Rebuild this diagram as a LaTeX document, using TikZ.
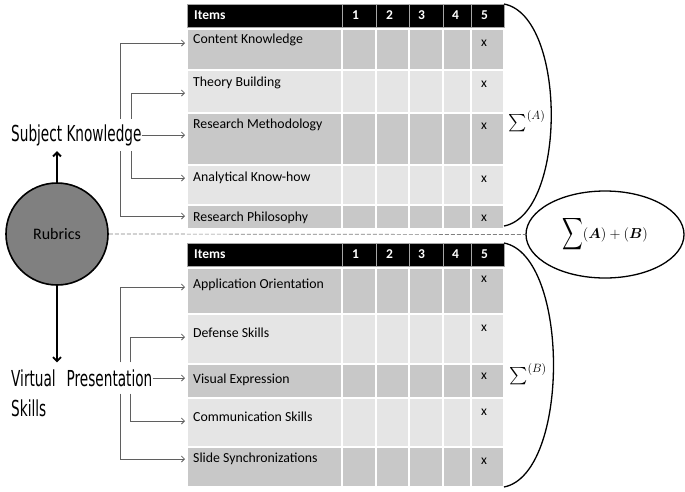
\documentclass[tikz,border=0pt]{standalone}
\usepackage{fontspec}
\usepackage{amsmath}
\usepackage{bm}
\usetikzlibrary{arrows.meta,positioning,shapes.geometric}
\newfontfamily\itemfont{Carlito}
\newfontfamily\catfont{DejaVu Sans}
\definecolor{rowdark}{RGB}{200,200,200}
\definecolor{rowlight}{RGB}{229,229,229}
\definecolor{linkgray}{RGB}{95,95,95}
\definecolor{ballgray}{RGB}{128,128,128}
\newcommand{\cattext}[1]{\scalebox{0.62}[1]{#1}}

\begin{document}
\begin{tikzpicture}[x=1pt,y=-1pt,
    hdr/.style={text=white,font=\itemfont\bfseries\fontsize{13.5}{16}\selectfont,inner sep=0,anchor=west},
    item/.style={font=\itemfont\fontsize{13.8}{16}\selectfont,inner sep=0,anchor=west},
    xmark/.style={font=\itemfont\fontsize{13.5}{16}\selectfont,inner sep=0,anchor=west},
    cat/.style={font=\catfont\fontsize{22}{26}\selectfont,inner xsep=0,anchor=west},
    link/.style={draw=linkgray,line width=0.8pt,-{Straight Barb[length=3pt,width=6pt]},shorten >=8pt},
    stem/.style={line width=1.8pt,-{Straight Barb[length=4pt,width=8pt]}},
    brace/.style={line width=1.3pt}]
\useasboundingbox (0,0) rectangle (685,491);

% top table (A)
\foreach \xa/\xb in {187/342,342/376,376/409,409/443,443/471,471/504}
    \filldraw[fill=black,draw=gray!70] (\xa,4) rectangle (\xb,27);
\foreach \ya/\yb/\rowc in {29/70/rowdark,70/113/rowlight,113/165/rowdark,165/205/rowlight,205/229/rowdark}
    \foreach \xa/\xb in {187/342,342/376,376/409,409/443,443/471,471/504}
        \filldraw[fill=\rowc,draw=white,line width=1.2pt] (\xa,\ya) rectangle (\xb,\yb);
\node[hdr] (hA0) at (194,15.5) {Items};
\foreach \d/\x in {1/352,2/386,3/418,4/452,5/481}
    \node[hdr] (hA\d) at (\x,15.5) {\d};
\foreach \n/\t/\y in {ck/Content Knowledge/40,tb/Theory Building/83,rm/Research Methodology/125,ak/Analytical Know-how/178,rp/Research Philosophy/218}
    \node[item] (\n) at (193,\y) {\t};
\foreach \y [count=\i] in {43,84,126,179,218}
    \node[xmark] (xA\i) at (481,\y) {x};

% bottom table (B)
\foreach \xa/\xb in {187/342,342/376,376/409,409/443,443/471,471/504}
    \filldraw[fill=black,draw=gray!70] (\xa,243) rectangle (\xb,266);
\foreach \ya/\yb/\rowc in {268/314/rowdark,314/364/rowlight,364/398/rowdark,398/447/rowlight,447/487/rowdark}
    \foreach \xa/\xb in {187/342,342/376,376/409,409/443,443/471,471/504}
        \filldraw[fill=\rowc,draw=white,line width=1.2pt] (\xa,\ya) rectangle (\xb,\yb);
\node[hdr] (hB0) at (194,254.5) {Items};
\foreach \d/\x in {1/352,2/386,3/418,4/452,5/481}
    \node[hdr] (hB\d) at (\x,254.5) {\d};
\foreach \n/\t/\y in {ao/Application Orientation/285,ds/Defense Skills/333,ve/Visual Expression/380,cs/Communication Skills/417,ss/Slide Synchronizations/459}
    \node[item] (\n) at (193,\y) {\t};
\foreach \y [count=\i] in {279,328,376,412,461}
    \node[xmark] (xB\i) at (481,\y) {x};

% rubrics and categories
\node[circle,draw,line width=1.6pt,fill=ballgray,minimum size=102pt,inner sep=0,
      font=\itemfont\fontsize{16}{18}\selectfont] (rub) at (57,234) {Rubrics};
\node[cat,minimum height=32pt] (subj) at (11,135) {\cattext{Subject Knowledge}};
\node[cat,minimum height=31pt] (vp) at (11,378) {\cattext{Virtual\hspace{0.8em}Presentation}};
\node[cat] (vps) at (11,408) {\cattext{Skills}};

\draw[stem] (rub.north) -- (rub.north |- subj.south);
\draw[stem] (rub.south) -- (rub.south |- vp.north);

\coordinate (xo) at (120,0);
\coordinate (xi) at (131,0);
\coordinate (xj) at (130,0);

\draw[link] (subj.north -| xo) |- ([yshift=-3pt]ck.west);
\draw[link] (subj.north -| xi) |- ([yshift=-10pt]tb.west);
\draw[link] (subj.east) -- (subj.east -| rm.west);
\draw[link] (subj.south -| xi) |- (ak.west);
\draw[link] (subj.south -| xo) |- ([yshift=2pt]rp.west);

\draw[link] (vp.north -| xo) |- ([yshift=-2pt]ao.west);
\draw[link] (vp.north -| xj) |- ([yshift=-4pt]ds.west);
\draw[link] (vp.east) -- (vp.east -| ve.west);
\draw[link] (vp.south -| xj) |- ([yshift=-4pt]cs.west);
\draw[link] (vp.south -| xo) |- (ss.west);

% sums
\node[ellipse,draw,line width=1.3pt,minimum width=158pt,minimum height=87pt,
      font=\fontsize{15}{18}\selectfont] (tot) at (605,234.5)
      {$\vcenter{\hbox{\scalebox{1}[1.55]{$\displaystyle\sum$}}}(\boldsymbol{A})+(\boldsymbol{B})$};
\draw[draw=gray,line width=0.7pt,dash pattern=on 4pt off 2pt] (rub.east) -- (tot.west);

\draw[brace] (504,4) .. controls (567,16) and (567,214) .. (504,226);
\draw[brace] (504,243) .. controls (570,256) and (570,474) .. (504,487);
\node[font=\fontsize{17}{20}\selectfont] (sumA) at (527,121) {$\sum^{(A)}$};
\node[font=\fontsize{17}{20}\selectfont] (sumB) at (528,374) {$\sum^{(B)}$};
\end{tikzpicture}
\end{document}
